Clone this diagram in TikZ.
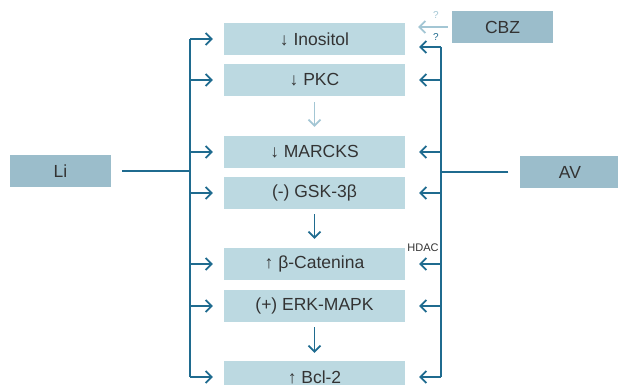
\documentclass[tikz,border=0pt]{standalone}
\usepackage{fontspec}
\setmainfont{Liberation Sans}
\usetikzlibrary{arrows.meta}
\definecolor{boxfill}{HTML}{BCD9E1}
\definecolor{agentfill}{HTML}{9BBDCB}
\definecolor{linecol}{HTML}{1F6B8F}
\definecolor{lightcol}{HTML}{A3C6D4}
\definecolor{textcol}{HTML}{333333}
\begin{document}
\begin{tikzpicture}[x=1pt,y=-1pt,
  stepbox/.style={fill=boxfill,minimum width=181pt,minimum height=32pt,inner sep=0pt,text=textcol,font=\fontsize{17.5}{19}\selectfont},
  agent/.style={fill=agentfill,minimum width=101pt,minimum height=32pt,inner sep=0pt,text=textcol,font=\fontsize{17.5}{19}\selectfont},
  conn/.style={draw=linecol,line width=1.7pt},
  arr/.style={conn,-{Straight Barb[length=6pt,width=12pt,line width=1.7pt]}},
  larr/.style={draw=lightcol,line width=1.7pt,-{Straight Barb[length=6pt,width=12pt,line width=1.7pt]}},
  qm/.style={font=\fontsize{10}{11}\selectfont,inner sep=0pt}
]
\useasboundingbox (0,0) rectangle (618,385);
\node[stepbox] (inos) at (314.5,39) {↓ Inositol};
\node[stepbox] (pkc) at (314.5,80) {↓ PKC};
\node[stepbox] (marcks) at (314.5,152) {↓ MARCKS};
\node[stepbox] (gsk) at (314.5,193) {(-) GSK-3β};
\node[stepbox] (cat) at (314.5,264) {↑ β-Catenina};
\node[stepbox] (erk) at (314.5,306) {(+) ERK-MAPK};
\node[stepbox] (bcl) at (314.5,377) {↑ Bcl-2};
\node[agent] (li) at (60.5,171) {Li};
\node[agent] (av) at (570,172) {AV};
\node[agent] (cbz) at (502.5,27) {CBZ};
% buses
\coordinate (L) at (190,0);
\coordinate (R) at (441,0);
\coordinate (Rtop) at (441,47);
\draw[conn] (L |- inos.west) -- (L |- bcl.west);
\draw[conn] (Rtop) -- (R |- bcl.east);
\draw[conn] ([xshift=11pt]li.east) -- (L |- li.east);
\draw[conn] ([xshift=-11pt]av.west) -- (R |- av.west);
% left arrows
\foreach \n in {inos,pkc,marcks,gsk,cat,erk,bcl}{
  \draw[arr] (L |- \n.west) -- ([xshift=-11pt]\n.west);
}
% right arrows
\foreach \n in {pkc,marcks,gsk,cat,erk,bcl}{
  \draw[arr] (R |- \n.east) -- ([xshift=14pt]\n.east);
}
\draw[arr] (Rtop) -- ([xshift=14pt]inos.east |- Rtop);
\node[qm,text=linecol] (q2) at (436,37) {?};
% CBZ light arrow
\draw[larr] ([xshift=-4pt]cbz.west) -- ([xshift=13pt]inos.east |- cbz.west);
\node[qm,text=lightcol] (q1) at (436,15) {?};
% HDAC
\node[font=\fontsize{11}{12}\selectfont,text=textcol,inner sep=0pt] (hdac) at (423,248) {HDAC};
% down arrows
\draw[larr] ([yshift=-6pt]pkc.south) -- ([yshift=9pt]marcks.north);
\draw[arr] ([yshift=-5pt]gsk.south) -- ([yshift=9pt]cat.north);
\draw[arr] ([yshift=-5pt]erk.south) -- ([yshift=8pt]bcl.north);
\end{tikzpicture}
\end{document}
